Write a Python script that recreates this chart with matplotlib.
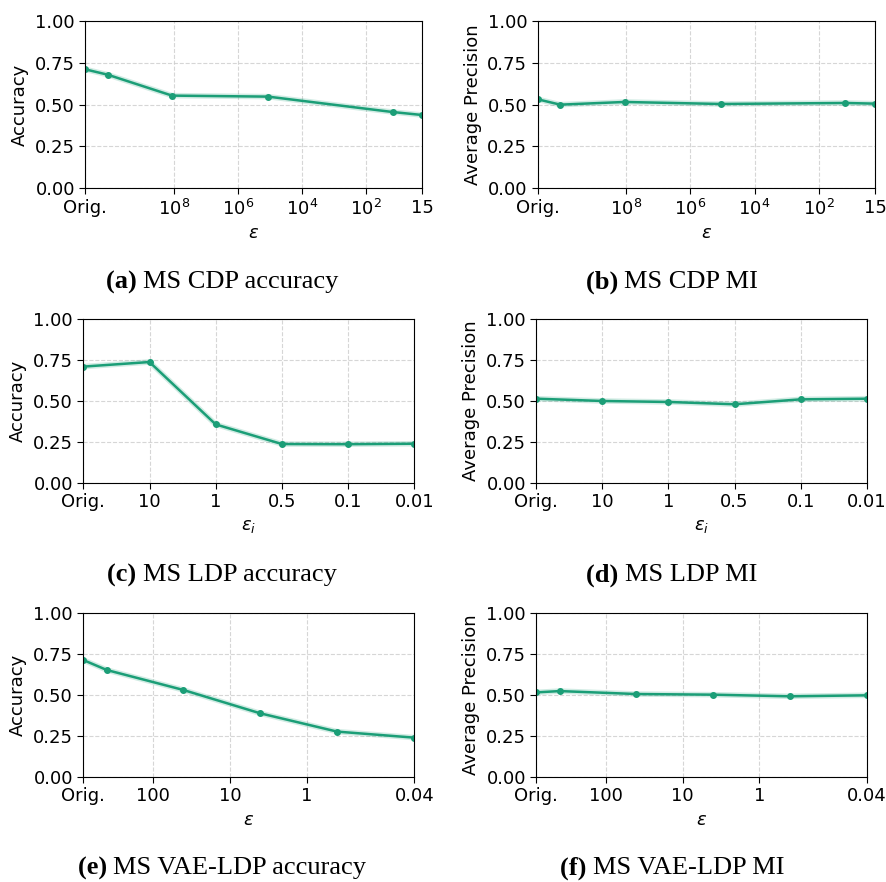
import numpy as np
import matplotlib
matplotlib.use('Agg')
import matplotlib.pyplot as plt

color = '#1b9e77'

# (a) MS CDP accuracy / (b) MS CDP MI  -- x is log10(epsilon), first point is the original model
cdp_x = [10.77, 10.07, 8.06, 5.06, 1.17, 0.24]
cdp_acc = [0.711, 0.679, 0.554, 0.548, 0.456, 0.438]
cdp_ap = [0.532, 0.500, 0.516, 0.504, 0.510, 0.506]
cdp_ticks = [10.77, 8, 6, 4, 2, 0.24]
cdp_labels = ['Orig.', '$10^{8}$', '$10^{6}$', '$10^{4}$', '$10^{2}$', '15']

# (c) MS LDP accuracy / (d) MS LDP MI -- categorical epsilon_i
ldp_labels = ['Orig.', '10', '1', '0.5', '0.1', '0.01']
ldp_acc = [0.711, 0.739, 0.358, 0.238, 0.237, 0.240]
ldp_ap = [0.515, 0.501, 0.495, 0.481, 0.511, 0.515]

# (e) MS VAE-LDP accuracy / (f) MS VAE-LDP MI -- x is log10(epsilon)
vae_x = [2.905, 2.60, 1.606, 0.606, -0.394, -1.398]
vae_acc = [0.714, 0.653, 0.531, 0.388, 0.276, 0.239]
vae_ap = [0.516, 0.524, 0.506, 0.502, 0.492, 0.498]
vae_ticks = [2.905, 2, 1, 0, -1.398]
vae_labels = ['Orig.', '100', '10', '1', '0.04']

W, H = 887, 882
fig = plt.figure(figsize=(W / 100, H / 100), dpi=100)


def make_ax(left, right, top, bottom):
    return fig.add_axes([left / W, 1 - bottom / H, (right - left) / W, (bottom - top) / H])


def style(ax, ylabel, xlabel):
    ax.set_ylim(0, 1)
    ax.set_yticks([0, 0.25, 0.5, 0.75, 1.0])
    ax.set_yticklabels(['0.00', '0.25', '0.50', '0.75', '1.00'])
    ax.grid(True, linestyle='--', color='#cccccc', linewidth=0.8, alpha=0.8)
    ax.set_axisbelow(True)
    ax.set_ylabel(ylabel, fontsize=13, labelpad=4)
    ax.set_xlabel(xlabel, fontsize=13, labelpad=4)
    ax.tick_params(labelsize=13, length=4)


def draw(ax, x, y):
    ax.plot(x, y, color=color, linewidth=4, alpha=0.2, solid_capstyle='round')
    ax.plot(x, y, color=color, marker='o', markersize=4, linewidth=1.8)


# row 1
ax = make_ax(85.3, 422.3, 21, 188.3)
draw(ax, cdp_x, cdp_acc)
ax.set_xlim(cdp_x[0], cdp_x[-1])
ax.set_xticks(cdp_ticks)
ax.set_xticklabels(cdp_labels)
style(ax, 'Accuracy', r'$\epsilon$')

ax = make_ax(537.7, 875, 21, 188.3)
draw(ax, cdp_x, cdp_ap)
ax.set_xlim(cdp_x[0], cdp_x[-1])
ax.set_xticks(cdp_ticks)
ax.set_xticklabels(cdp_labels)
style(ax, 'Average Precision', r'$\epsilon$')

# row 2
pos = np.arange(len(ldp_labels))
ax = make_ax(83.3, 414.3, 319.3, 483)
draw(ax, pos, ldp_acc)
ax.set_xlim(pos[0], pos[-1])
ax.set_xticks(pos)
ax.set_xticklabels(ldp_labels)
style(ax, 'Accuracy', r'$\epsilon_i$')

ax = make_ax(536.3, 866.7, 319.3, 483)
draw(ax, pos, ldp_ap)
ax.set_xlim(pos[0], pos[-1])
ax.set_xticks(pos)
ax.set_xticklabels(ldp_labels)
style(ax, 'Average Precision', r'$\epsilon_i$')

# row 3
ax = make_ax(83.3, 414.3, 613.3, 776.7)
draw(ax, vae_x, vae_acc)
ax.set_xlim(vae_x[0], vae_x[-1])
ax.set_xticks(vae_ticks)
ax.set_xticklabels(vae_labels)
style(ax, 'Accuracy', r'$\epsilon$')

ax = make_ax(536.3, 866.7, 613.3, 776.7)
draw(ax, vae_x, vae_ap)
ax.set_xlim(vae_x[0], vae_x[-1])
ax.set_xticks(vae_ticks)
ax.set_xticklabels(vae_labels)
style(ax, 'Average Precision', r'$\epsilon$')

# captions: bold tag + regular text, centred together
captions = [
    ('(a)', 'MS CDP accuracy', 222, 282),
    ('(b)', 'MS CDP MI', 672, 282),
    ('(c)', 'MS LDP accuracy', 222, 575),
    ('(d)', 'MS LDP MI', 672, 575),
    ('(e)', 'MS VAE-LDP accuracy', 222, 868),
    ('(f)', 'MS VAE-LDP MI', 672, 868),
]
renderer = fig.canvas.get_renderer()
for tag, text, cx, cy in captions:
    t1 = fig.text(0, 1 - cy / H, tag + ' ', fontsize=19, family='Liberation Serif',
                  weight='bold', va='center')
    t2 = fig.text(0, 1 - cy / H, text, fontsize=19, family='Liberation Serif', va='center')
    w1 = t1.get_window_extent(renderer).width
    w2 = t2.get_window_extent(renderer).width
    x0 = cx - (w1 + w2) / 2
    t1.set_x(x0 / W)
    t2.set_x((x0 + w1) / W)

fig.savefig('out.png', dpi=100)
